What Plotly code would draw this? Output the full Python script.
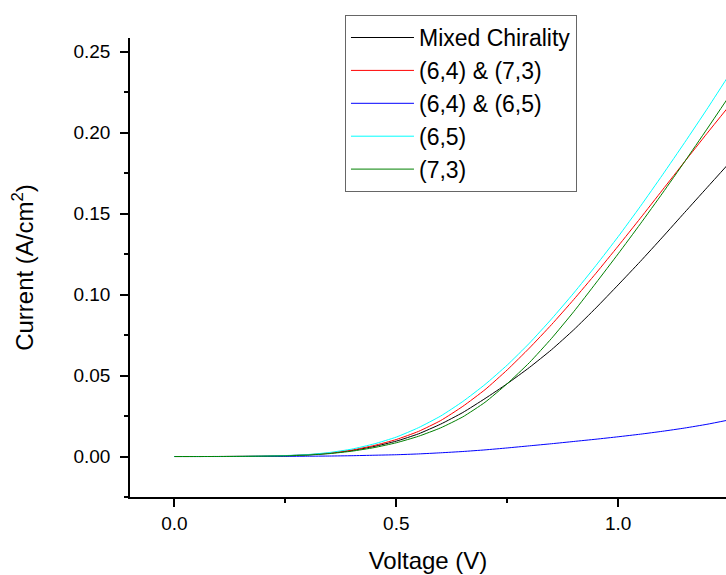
import plotly.graph_objects as go

voltage = [0.0, 0.05, 0.1, 0.15, 0.2, 0.25, 0.3, 0.35, 0.4, 0.45, 0.5, 0.55, 0.6, 0.65,
           0.7, 0.75, 0.8, 0.85, 0.9, 0.95, 1.0, 1.05, 1.1, 1.15, 1.2, 1.25]

mixed = [0.0, 0.0, 0.00002, 0.00008, 0.0002, 0.0005, 0.0010, 0.0020, 0.0037, 0.0062, 0.0095,
         0.0140, 0.0200, 0.0272, 0.0358, 0.0450, 0.0550, 0.0660, 0.0783, 0.0918, 0.1060,
         0.1205, 0.1355, 0.1508, 0.1660, 0.1812]
c64_73 = [0.0, 0.0, 0.00002, 0.00008, 0.0002, 0.0005, 0.0011, 0.0022, 0.0040, 0.0068, 0.0105,
          0.0155, 0.0222, 0.0310, 0.0413, 0.0535, 0.0670, 0.0815, 0.0970, 0.1132, 0.1300,
          0.1472, 0.1647, 0.1822, 0.1995, 0.2165]
c64_65 = [0.0, 0.0, 0.0, 0.00002, 0.00005, 0.0001, 0.0002, 0.0003, 0.0005, 0.0008, 0.0011,
          0.0016, 0.0023, 0.0031, 0.0041, 0.0053, 0.0066, 0.0079, 0.0093, 0.0107, 0.0122,
          0.0138, 0.0156, 0.0176, 0.0199, 0.0226]
c65 = [0.0, 0.0, 0.00002, 0.00008, 0.0003, 0.0006, 0.0012, 0.0025, 0.0046, 0.0078, 0.0120,
       0.0178, 0.0250, 0.0340, 0.0445, 0.0565, 0.0700, 0.0850, 0.1010, 0.1180, 0.1358,
       0.1545, 0.1740, 0.1940, 0.2145, 0.2357]
c73 = [0.0, 0.0, 0.00002, 0.00008, 0.0002, 0.0004, 0.0009, 0.0018, 0.0033, 0.0055, 0.0085,
       0.0125, 0.0177, 0.0245, 0.0335, 0.0450, 0.0580, 0.0730, 0.0895, 0.1072, 0.1252,
       0.1437, 0.1627, 0.1822, 0.2022, 0.2225]

series = [
    ("Mixed Chirality", mixed, "#000000"),
    ("(6,4) & (7,3)", c64_73, "#ff0000"),
    ("(6,4) & (6,5)", c64_65, "#0000ff"),
    ("(6,5)", c65, "#00ffff"),
    ("(7,3)", c73, "#008000"),
]

x_ticks = [0.0, 0.5, 1.0]
y_ticks = [0.00, 0.05, 0.10, 0.15, 0.20, 0.25]

fig = go.Figure()
for name, vals, col in series:
    fig.add_trace(go.Scatter(x=voltage, y=vals, mode="lines", name=name,
                             line=dict(color=col, width=1, shape="spline", smoothing=0.5)))

font_family = "Liberation Sans, Arial, sans-serif"

fig.update_layout(
    width=726, height=575,
    margin=dict(l=130, r=0, t=38, b=78),
    paper_bgcolor="white", plot_bgcolor="white",
    font=dict(family=font_family, color="black"),
    showlegend=True,
    legend=dict(
        x=0.3607, y=1.05, xanchor="left", yanchor="top",
        bordercolor="#666666", borderwidth=1, bgcolor="white",
        font=dict(size=23, family=font_family, color="black"),
        itemwidth=63, tracegroupgap=0,
    ),
    xaxis=dict(
        range=[-0.1, 1.243], tickvals=x_ticks, tickformat=".1f",
        showline=True, linecolor="black", linewidth=1.5, mirror=False,
        ticks="outside", ticklen=8, tickwidth=1.5, tickcolor="black",
        tickfont=dict(size=19), showgrid=False, zeroline=False,
        minor=dict(dtick=0.25, tick0=0, ticks="outside", ticklen=4,
                   tickwidth=1.5, tickcolor="black", showgrid=False),
        title=dict(text="Voltage (V)", font=dict(size=24), standoff=20),
        automargin=False,
    ),
    yaxis=dict(
        range=[-0.025, 0.2585], tickvals=y_ticks, tickformat=".2f",
        showline=True, linecolor="black", linewidth=1.5, mirror=False,
        ticks="outside", ticklen=8, tickwidth=1.5, tickcolor="black",
        tickfont=dict(size=19), showgrid=False, zeroline=False,
        ticklabelstandoff=6,
        minor=dict(dtick=0.025, tick0=0, ticks="outside", ticklen=4,
                   tickwidth=1.5, tickcolor="black", showgrid=False),
        title=dict(text="Current (A/cm<sup>2</sup>)", font=dict(size=24), standoff=33),
        automargin=False,
    ),
)

fig.write_html(
    "out.html",
    config={"displayModeBar": False},
    post_script="document.body.style.margin='0';document.body.style.overflow='hidden';",
)
